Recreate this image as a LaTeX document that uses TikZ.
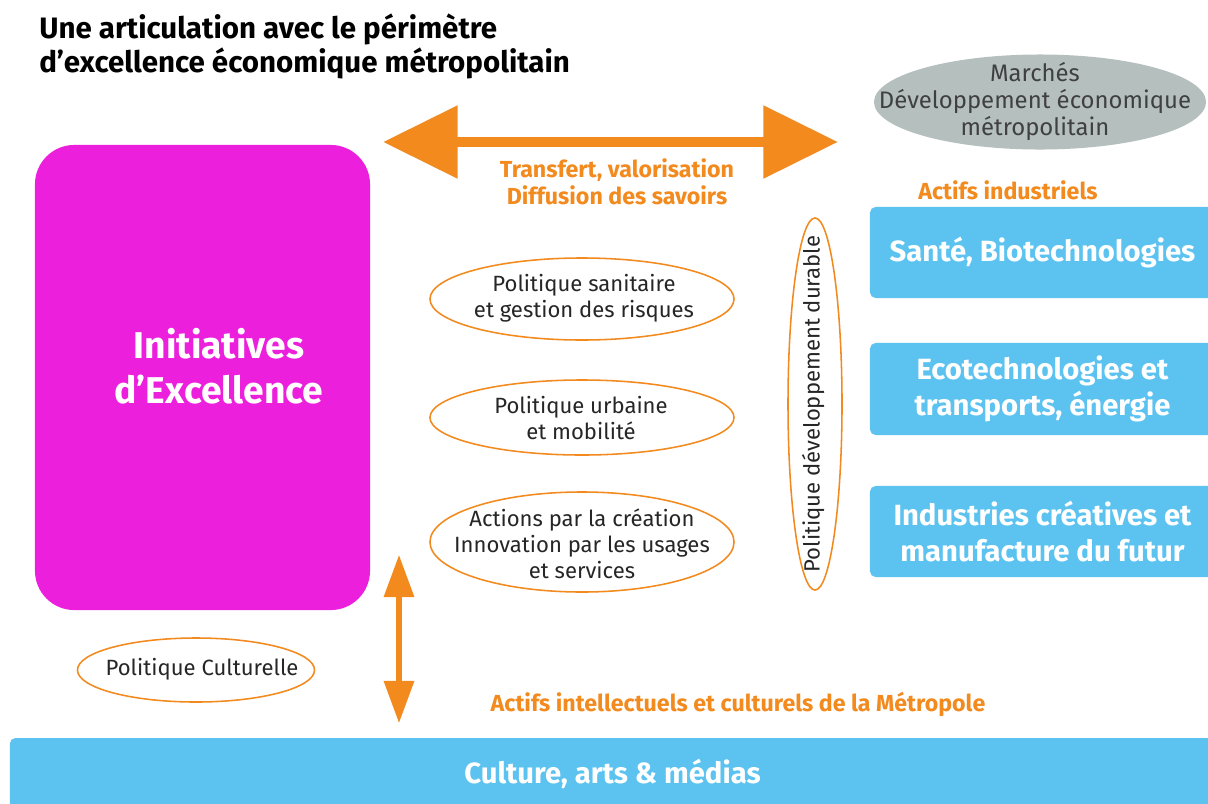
\documentclass[tikz,border=0pt]{standalone}
\usepackage{fontspec}
\setmainfont{Fira Sans}
\usetikzlibrary{shapes.geometric,arrows.meta}
\definecolor{rose}{HTML}{EC1FDC}
\definecolor{ciel}{HTML}{5CC3F1}
\definecolor{orangeF}{HTML}{F28A1E}
\definecolor{gris}{HTML}{B4BFBE}
\tikzset{
  pol/.style={ellipse, draw=orangeF, line width=1.1pt, fill=white, inner sep=0pt},
  poltxt/.style={align=center, text=black!85, font=\fontsize{15.7}{18.5}\selectfont},
  actif/.style={rectangle, rounded corners=4pt, fill=ciel, align=center, text=white,
    font=\bfseries\fontsize{20.8}{25.6}\selectfont},
  lbl/.style={align=center, text=orangeF, font=\bfseries\fontsize{16.5}{19.2}\selectfont},
  fleche/.style={draw=orangeF, line width=7.8pt,
    {Triangle[length=53pt,width=50pt]}-{Triangle[length=53pt,width=50pt]}},
  flechev/.style={draw=orangeF, line width=3.6pt,
    {Triangle[length=30pt,width=21pt]}-{Triangle[length=30pt,width=21pt]}},
}
\begin{document}
\begin{tikzpicture}[x=0.025cm,y=-0.025cm]
  \clip (0,0) rectangle (1208,803);
  \fill[white] (0,0) rectangle (1208,803);
  % titre
  \node[anchor=north west, inner sep=0pt, align=left, font=\bfseries\fontsize{21}{24.2}\selectfont]
    (titre) at (39,14) {Une articulation avec le périmètre\\d’excellence économique métropolitain};
  % initiatives
  \node[fill=rose, rounded corners=28pt, minimum width=8.375cm, minimum height=11.625cm]
    (init) at (202.5,377.5) {};
  \node[align=center, text=white, font=\bfseries\fontsize{26.5}{32}\selectfont]
    (init-t) at (219,366) {Initiatives\\d’Excellence};
  % marches
  \node[ellipse, fill=gris, minimum width=8.3cm, minimum height=2.375cm] (marches) at (1040,102) {};
  \node[align=center, text=black!75, font=\fontsize{17}{19}\selectfont]
    (marches-t) at (1035,101.5) {Marchés\\Développement économique\\métropolitain};
  % fleches
  \coordinate (fg) at (383,142);
  \coordinate (fd) at (838,142);
  \draw[fleche] (fg) -- (fd);
  \node[lbl] (transfert) at (617,182) {Transfert, valorisation\\Diffusion des savoirs};
  \coordinate (vh) at (399,555);
  \coordinate (vb) at (399,723);
  \draw[flechev] (vh) -- (vb);
  % politiques
  \node[pol, minimum width=7.6cm, minimum height=2.05cm] (san) at (582,299) {};
  \node[poltxt] (san-t) at (584,298) {Politique sanitaire\\et gestion des risques};
  \node[pol, minimum width=7.6cm, minimum height=1.875cm] (urb) at (582,417.5) {};
  \node[poltxt] (urb-t) at (581,418) {Politique urbaine\\et mobilité};
  \node[pol, minimum width=7.6cm, minimum height=2.5cm] (crea) at (582,542) {};
  \node[poltxt] (crea-t) at (582,544) {Actions par la création\\Innovation par les usages\\et services};
  \node[pol, minimum width=1.35cm, minimum height=9.3cm] (dur) at (815,404) {};
  \node[poltxt, rotate=90] (dur-t) at (813,404) {Politique développement durable};
  \node[pol, minimum width=5.925cm, minimum height=1.6cm] (cult) at (196,670) {};
  \node[poltxt] (cult-t) at (202,669) {Politique Culturelle};
  % actifs
  \node[lbl] (ind) at (1008,190) {Actifs industriels};
  \node[actif, minimum width=8.625cm, minimum height=2.275cm] (sante) at (1042.5,252.5) {Santé, Biotechnologies};
  \node[actif, minimum width=8.625cm, minimum height=2.3cm] (eco) at (1042.5,389) {Ecotechnologies et\\transports, énergie};
  \node[actif, minimum width=8.625cm, minimum height=2.275cm] (crea-ind) at (1042.5,531.5) {Industries créatives et\\manufacture du futur};
  \node[lbl] (intel) at (738,704) {Actifs intellectuels et culturels de la Métropole};
  \node[actif, minimum width=30.125cm, minimum height=1.8cm] (culture) at (612.5,774) {Culture, arts \& médias};
\end{tikzpicture}
\end{document}
